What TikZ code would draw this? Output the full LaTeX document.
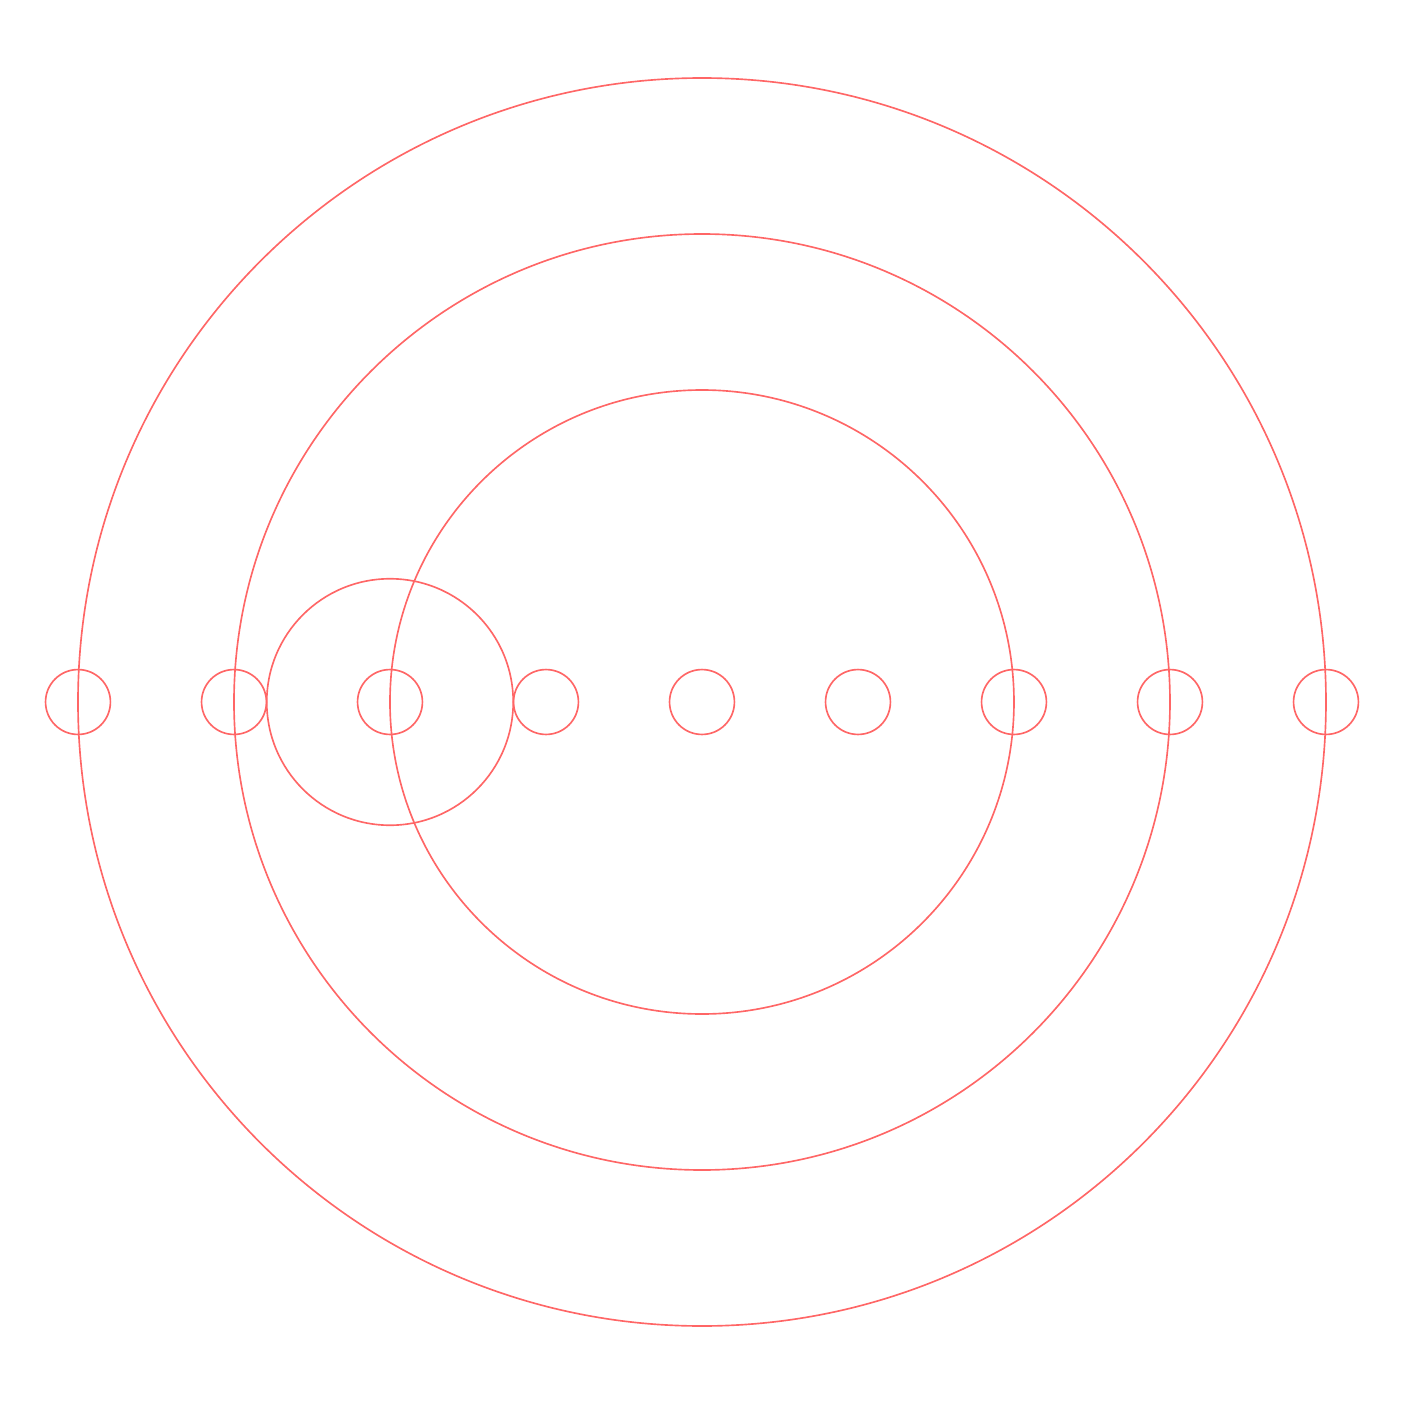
\documentclass[tikz,border=0pt]{standalone}
\definecolor{ringred}{RGB}{255,102,102}
\begin{document}
\begin{tikzpicture}[line join=round,line cap=round,scale=1]
			\def\r{0.208}
			\useasboundingbox (-4.5,-4.5) rectangle (4.5,4.5);
			\path 
			(0,0) coordinate (O)
			(-2,0) coordinate (c)
			;
			\foreach \R in {2,3,4}
			\draw[ringred,line width=0.3pt] (O) circle (\R);
			\draw[ringred,line width=0.3pt] (c) circle (0.79);
			\foreach \x in {-4,...,4}
			\draw[ringred,line width=0.3pt] (\x,0) circle (\r);
	\end{tikzpicture}
\end{document}
